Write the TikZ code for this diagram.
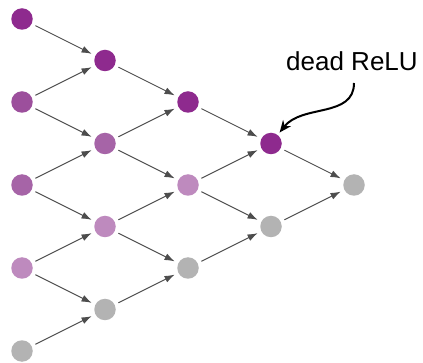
\documentclass[tikz,border=0pt]{standalone}
\usepackage{fontspec}
\setmainfont{Liberation Sans}
\usetikzlibrary{arrows.meta}
\definecolor{pdark}{HTML}{8E2A8E}
\definecolor{pmid}{HTML}{9C4F9C}
\definecolor{pmed}{HTML}{A664A7}
\definecolor{plight}{HTML}{BE8ABE}
\definecolor{ngray}{HTML}{B3B3B3}
\definecolor{edgegray}{HTML}{4D4D4D}
\tikzset{
  unit/.style={circle, inner sep=0pt, minimum size=21.5pt, draw=none},
  conn/.style={draw=edgegray, line width=0.9pt, -{Latex[length=10pt,width=7pt]}, shorten <=4pt, shorten >=4pt},
}
\begin{document}
\begin{tikzpicture}[x=1pt,y=-1pt]
\useasboundingbox (0,0) rectangle (423,363);
% column 0
\node[unit,fill=pdark]  (n00) at (22,19) {};
\node[unit,fill=pmid]   (n01) at (22,102) {};
\node[unit,fill=pmed]   (n02) at (22,185) {};
\node[unit,fill=plight] (n03) at (22,268) {};
\node[unit,fill=ngray]  (n04) at (22,351) {};
% column 1
\node[unit,fill=pdark]  (n10) at (105,60.5) {};
\node[unit,fill=pmed]   (n11) at (105,143.5) {};
\node[unit,fill=plight] (n12) at (105,226.5) {};
\node[unit,fill=ngray]  (n13) at (105,309.5) {};
% column 2
\node[unit,fill=pdark]  (n20) at (188,102) {};
\node[unit,fill=plight] (n21) at (188,185) {};
\node[unit,fill=ngray]  (n22) at (188,268) {};
% column 3
\node[unit,fill=pdark]  (n30) at (271,143.5) {};
\node[unit,fill=ngray]  (n31) at (271,226.5) {};
% column 4
\node[unit,fill=ngray]  (n40) at (354,185) {};
% edges
\draw[conn] (n00) -- (n10);
\draw[conn] (n01) -- (n10);
\draw[conn] (n01) -- (n11);
\draw[conn] (n02) -- (n11);
\draw[conn] (n02) -- (n12);
\draw[conn] (n03) -- (n12);
\draw[conn] (n03) -- (n13);
\draw[conn] (n04) -- (n13);
\draw[conn] (n10) -- (n20);
\draw[conn] (n11) -- (n20);
\draw[conn] (n11) -- (n21);
\draw[conn] (n12) -- (n21);
\draw[conn] (n12) -- (n22);
\draw[conn] (n13) -- (n22);
\draw[conn] (n20) -- (n30);
\draw[conn] (n21) -- (n30);
\draw[conn] (n21) -- (n31);
\draw[conn] (n22) -- (n31);
\draw[conn] (n30) -- (n40);
\draw[conn] (n31) -- (n40);
% label
\node[anchor=base west, inner sep=0pt, font=\fontsize{26}{30}\selectfont] (lbl) at (286,71) {dead ReLU};
\coordinate (cstart) at (354,83);
\draw[line width=2pt, -{Stealth[length=12pt,width=10pt]}, shorten >=3pt] (cstart) .. controls (354,118) and (302,104) .. (n30);
\end{tikzpicture}
\end{document}
